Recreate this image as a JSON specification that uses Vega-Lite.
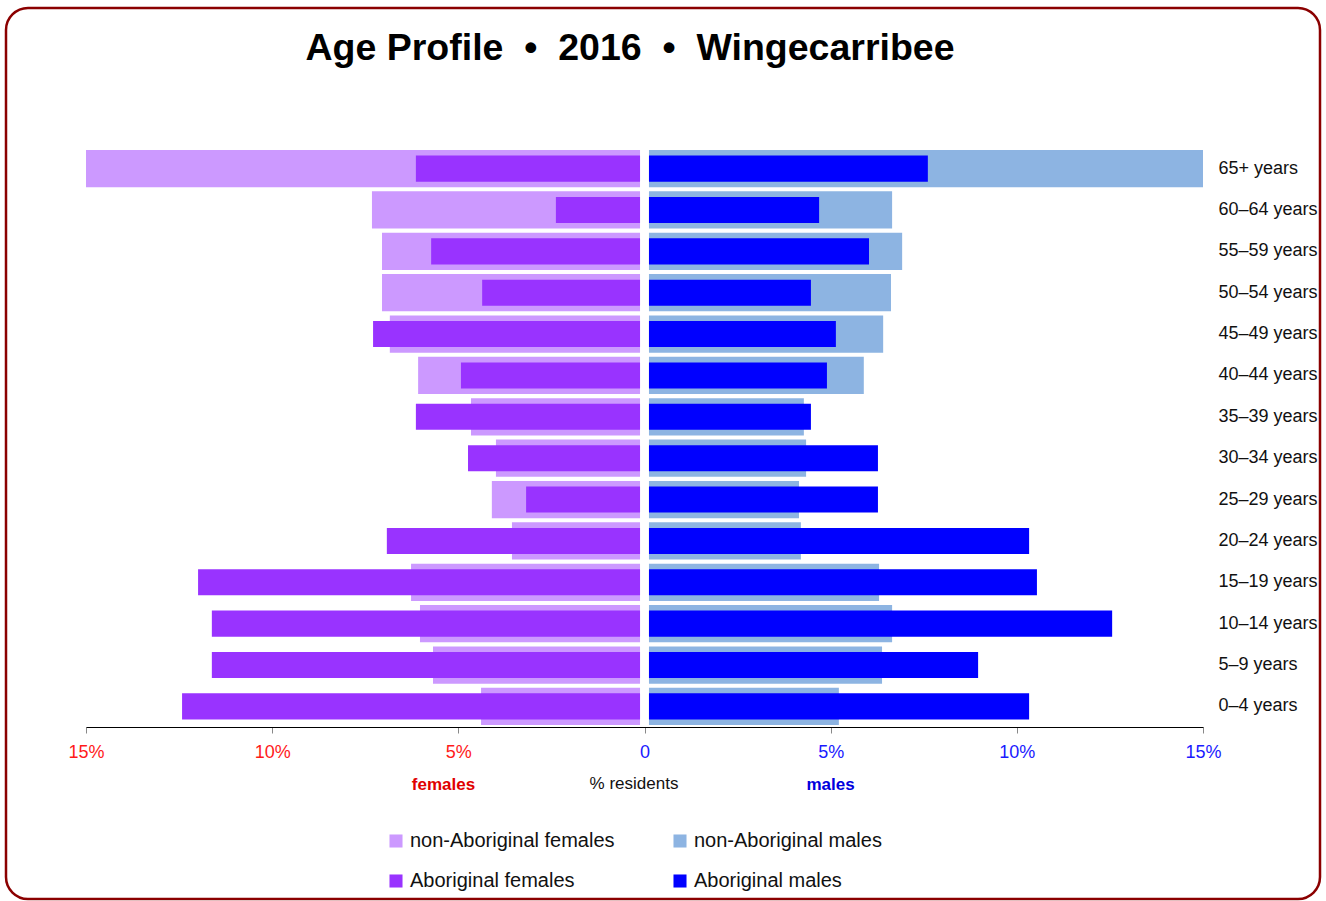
{
  "$schema": "https://vega.github.io/schema/vega-lite/v6.json",
  "autosize": "none",
  "width": 1314,
  "height": 891,
  "padding": {"left": 6, "top": 8, "right": 6, "bottom": 2},
  "background": "white",
  "config": {
    "view": {"stroke": "#8b0000", "strokeWidth": 2.5, "cornerRadius": 22, "fill": "white"},
    "font": "Liberation Sans"
  },
  "title": {
    "text": "Age Profile\u00a0 •\u00a0 2016\u00a0 •\u00a0 Wingecarribee",
    "font": "Liberation Sans",
    "fontSize": 37.5,
    "fontWeight": "bold",
    "color": "#000000",
    "frame": "group",
    "anchor": "middle",
    "dx": -33,
    "offset": -89,
    "baseline": "alphabetic"
  },
  "data": {
    "values": [
      {"age": "65+ years", "series": "non-Aboriginal females", "pct": 15.0},
      {"age": "60–64 years", "series": "non-Aboriginal females", "pct": 7.32},
      {"age": "55–59 years", "series": "non-Aboriginal females", "pct": 7.05},
      {"age": "50–54 years", "series": "non-Aboriginal females", "pct": 7.05},
      {"age": "45–49 years", "series": "non-Aboriginal females", "pct": 6.84},
      {"age": "40–44 years", "series": "non-Aboriginal females", "pct": 6.08},
      {"age": "35–39 years", "series": "non-Aboriginal females", "pct": 4.66},
      {"age": "30–34 years", "series": "non-Aboriginal females", "pct": 3.99},
      {"age": "25–29 years", "series": "non-Aboriginal females", "pct": 4.10},
      {"age": "20–24 years", "series": "non-Aboriginal females", "pct": 3.56},
      {"age": "15–19 years", "series": "non-Aboriginal females", "pct": 6.27},
      {"age": "10–14 years", "series": "non-Aboriginal females", "pct": 6.03},
      {"age": "5–9 years", "series": "non-Aboriginal females", "pct": 5.68},
      {"age": "0–4 years", "series": "non-Aboriginal females", "pct": 4.39},
      {"age": "65+ years", "series": "Aboriginal females", "pct": 6.14},
      {"age": "60–64 years", "series": "Aboriginal females", "pct": 2.38},
      {"age": "55–59 years", "series": "Aboriginal females", "pct": 5.73},
      {"age": "50–54 years", "series": "Aboriginal females", "pct": 4.36},
      {"age": "45–49 years", "series": "Aboriginal females", "pct": 7.29},
      {"age": "40–44 years", "series": "Aboriginal females", "pct": 4.93},
      {"age": "35–39 years", "series": "Aboriginal females", "pct": 6.14},
      {"age": "30–34 years", "series": "Aboriginal females", "pct": 4.74},
      {"age": "25–29 years", "series": "Aboriginal females", "pct": 3.18},
      {"age": "20–24 years", "series": "Aboriginal females", "pct": 6.92},
      {"age": "15–19 years", "series": "Aboriginal females", "pct": 11.99},
      {"age": "10–14 years", "series": "Aboriginal females", "pct": 11.62},
      {"age": "5–9 years", "series": "Aboriginal females", "pct": 11.62},
      {"age": "0–4 years", "series": "Aboriginal females", "pct": 12.42},
      {"age": "65+ years", "series": "non-Aboriginal males", "pct": 15.0},
      {"age": "60–64 years", "series": "non-Aboriginal males", "pct": 6.65},
      {"age": "55–59 years", "series": "non-Aboriginal males", "pct": 6.92},
      {"age": "50–54 years", "series": "non-Aboriginal males", "pct": 6.62},
      {"age": "45–49 years", "series": "non-Aboriginal males", "pct": 6.41},
      {"age": "40–44 years", "series": "non-Aboriginal males", "pct": 5.89},
      {"age": "35–39 years", "series": "non-Aboriginal males", "pct": 4.28},
      {"age": "30–34 years", "series": "non-Aboriginal males", "pct": 4.34},
      {"age": "25–29 years", "series": "non-Aboriginal males", "pct": 4.15},
      {"age": "20–24 years", "series": "non-Aboriginal males", "pct": 4.20},
      {"age": "15–19 years", "series": "non-Aboriginal males", "pct": 6.30},
      {"age": "10–14 years", "series": "non-Aboriginal males", "pct": 6.65},
      {"age": "5–9 years", "series": "non-Aboriginal males", "pct": 6.38},
      {"age": "0–4 years", "series": "non-Aboriginal males", "pct": 5.22},
      {"age": "65+ years", "series": "Aboriginal males", "pct": 7.61},
      {"age": "60–64 years", "series": "Aboriginal males", "pct": 4.69},
      {"age": "55–59 years", "series": "Aboriginal males", "pct": 6.03},
      {"age": "50–54 years", "series": "Aboriginal males", "pct": 4.47},
      {"age": "45–49 years", "series": "Aboriginal males", "pct": 5.14},
      {"age": "40–44 years", "series": "Aboriginal males", "pct": 4.90},
      {"age": "35–39 years", "series": "Aboriginal males", "pct": 4.47},
      {"age": "30–34 years", "series": "Aboriginal males", "pct": 6.27},
      {"age": "25–29 years", "series": "Aboriginal males", "pct": 6.27},
      {"age": "20–24 years", "series": "Aboriginal males", "pct": 10.33},
      {"age": "15–19 years", "series": "Aboriginal males", "pct": 10.54},
      {"age": "10–14 years", "series": "Aboriginal males", "pct": 12.56},
      {"age": "5–9 years", "series": "Aboriginal males", "pct": 8.96},
      {"age": "0–4 years", "series": "Aboriginal males", "pct": 10.33}
    ]
  },
  "encoding": {
    "y": {
      "field": "age",
      "type": "nominal",
      "sort": ["65+ years", "60–64 years", "55–59 years", "50–54 years", "45–49 years", "40–44 years", "35–39 years", "30–34 years", "25–29 years", "20–24 years", "15–19 years", "10–14 years", "5–9 years", "0–4 years"],
      "scale": {"range": [142, 717], "paddingInner": 0.1, "paddingOuter": 0},
      "axis": {
        "orient": "right",
        "offset": -117,
        "domain": false,
        "ticks": false,
        "labelPadding": 15,
        "labelFontSize": 18,
        "labelColor": "#111111",
        "labelFont": "Liberation Sans",
        "title": null
      }
    },
    "color": {
      "field": "series",
      "type": "nominal",
      "scale": {
        "domain": ["non-Aboriginal females", "Aboriginal females", "non-Aboriginal males", "Aboriginal males"],
        "range": ["#cc99ff", "#9933ff", "#8db4e2", "#0000ff"]
      },
      "legend": {
        "orient": "none",
        "legendX": 380,
        "legendY": 768,
        "columns": 2,
        "title": "% residents",
        "titleFontSize": 17,
        "titleFontWeight": "normal",
        "titleColor": "#111111",
        "titleAnchor": "middle",
        "titlePadding": 38,
        "labelFontSize": 20,
        "labelColor": "#111111",
        "symbolType": "square",
        "symbolSize": 170,
        "symbolStrokeWidth": 0,
        "columnPadding": 55,
        "rowPadding": 20,
        "labelOffset": 4,
        "padding": 0,
        "labelLimit": 400
      }
    }
  },
  "layer": [
    {
      "layer": [
        {
          "transform": [{"filter": "datum.series == 'non-Aboriginal females'"}],
          "mark": {"type": "bar"},
          "encoding": {
            "x": {
              "field": "pct",
              "type": "quantitative",
              "scale": {"domain": [-15, 15], "range": [80, 1197], "reverse": true, "nice": false, "zero": false},
              "axis": {
                "orient": "bottom",
                "offset": -172,
                "labels": false,
                "ticks": false,
                "domain": false,
                "grid": false,
                "title": "females",
                "titleX": 437,
                "titleY": 62,
                "titleFontSize": 17,
                "titleFontWeight": "bold",
                "titleColor": "#e00000",
                "titleBaseline": "alphabetic"
              }
            },
            "x2": {"datum": 0.12}
          }
        },
        {
          "transform": [{"filter": "datum.series == 'Aboriginal females'"}],
          "mark": {"type": "bar", "height": {"band": 0.7}},
          "encoding": {
            "x": {"field": "pct", "type": "quantitative"},
            "x2": {"datum": 0.12}
          }
        }
      ]
    },
    {
      "layer": [
        {
          "transform": [{"filter": "datum.series == 'non-Aboriginal males'"}],
          "mark": {"type": "bar"},
          "encoding": {
            "x": {
              "field": "pct",
              "type": "quantitative",
              "scale": {"domain": [-15, 15], "range": [80, 1197], "nice": false, "zero": false},
              "axis": {
                "orient": "bottom",
                "offset": -172,
                "values": [-15, -10, -5, 0, 5, 10, 15],
                "labelExpr": "datum.value == 0 ? '0' : abs(datum.value) + '%'",
                "labelColor": {"condition": {"test": "datum.value < 0", "value": "#ff1a1a"}, "value": "#1a1aff"},
                "labelFontSize": 18,
                "labelFlush": false,
                "labelPadding": 10,
                "tickSize": 6,
                "tickColor": "#888888",
                "domainColor": "#000000",
                "grid": false,
                "title": "males",
                "titleX": 824,
                "titleY": 62,
                "titleFontSize": 17,
                "titleFontWeight": "bold",
                "titleColor": "#0000dd",
                "titleBaseline": "alphabetic"
              }
            },
            "x2": {"datum": 0.12}
          }
        },
        {
          "transform": [{"filter": "datum.series == 'Aboriginal males'"}],
          "mark": {"type": "bar", "height": {"band": 0.7}},
          "encoding": {
            "x": {"field": "pct", "type": "quantitative"},
            "x2": {"datum": 0.12}
          }
        }
      ]
    }
  ],
  "resolve": {"scale": {"x": "independent"}}
}
